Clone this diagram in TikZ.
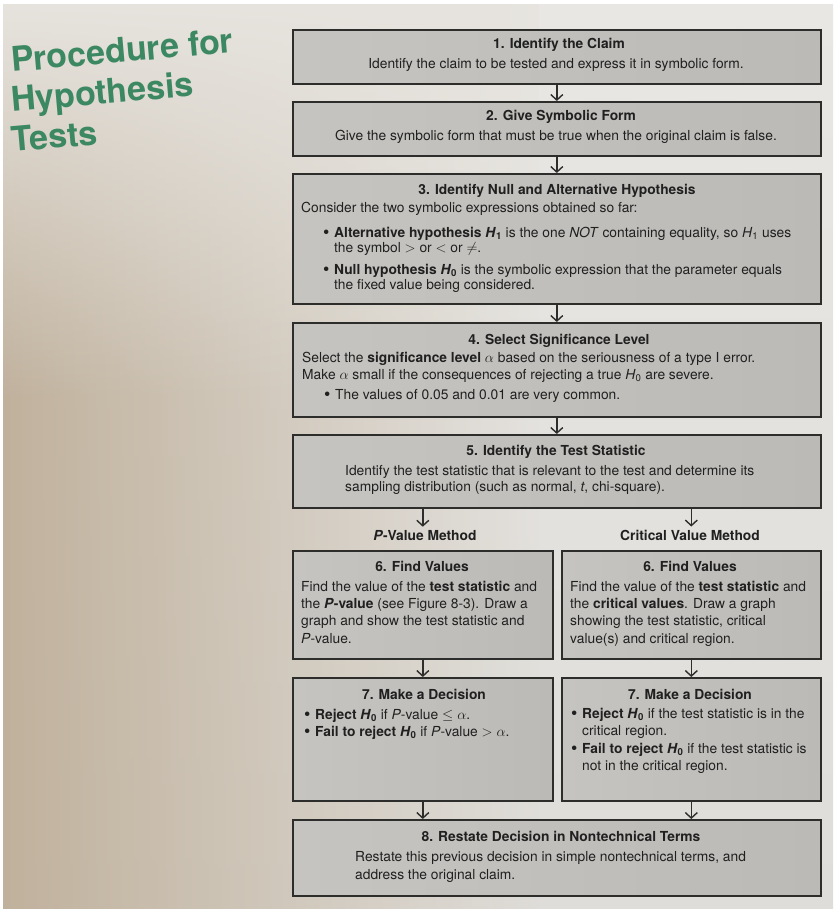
\documentclass[tikz,border=0pt]{standalone}
\usepackage{fontspec}
\setmainfont{TeX Gyre Heros}
\usetikzlibrary{arrows.meta,fadings}

\definecolor{pagetop}{RGB}{232,231,228}
\definecolor{pagebot}{RGB}{223,221,217}
\definecolor{pagetan}{RGB}{192,177,156}
\definecolor{pagelight}{RGB}{231,228,223}
\definecolor{boxlight}{RGB}{198,196,192}
\definecolor{boxdark}{RGB}{187,186,183}
\definecolor{edge}{RGB}{45,45,43}
\definecolor{ink}{RGB}{32,32,32}
\definecolor{titlegreen}{RGB}{60,136,99}

\newcommand{\Hsub}[1]{\textit{H}\textsubscript{#1}}
\newcommand{\Pv}{\textit{P}}
\newcommand{\blt}{\makebox[11pt][l]{\raisebox{-1.2pt}[0pt][0pt]{\fontsize{18}{17}\selectfont\textbullet}}}

\tikzset{
  stepbox/.style={draw=edge, line width=1.6pt, left color=boxlight, right color=boxdark,
    inner sep=0pt, anchor=north west},
  hd/.style={text=ink, font=\fontsize{13.8}{17}\selectfont\bfseries, inner sep=0pt, anchor=base},
  bd/.style={text=ink, font=\fontsize{13.8}{17}\selectfont, inner sep=0pt, anchor=base west},
  ttl/.style={text=titlegreen, font=\fontsize{34}{40}\selectfont\bfseries, inner sep=0pt,
    anchor=base west, rotate=5},
  arr/.style={draw=edge, line width=1.4pt, -{Straight Barb[length=5.5pt,width=12pt]}}
}

\begin{document}
\begin{tikzpicture}[x=1pt,y=-1pt]
\useasboundingbox (0,0) rectangle (833,909);

% paper: light grey on the right, warming to tan towards the lower left
\fill[white] (0,0) rectangle (833,909);
\begin{scope}
  \clip (3,5) rectangle (833,909);
  \shade[top color=pagetop, bottom color=pagebot] (0,0) rectangle (833,909);
  \fill[pagetan, path fading=east] (0,0) rectangle (540,909);
  \fill[pagelight, path fading=south] (0,0) rectangle (540,400);
\end{scope}

% heading
\node[ttl] (h1) at (12,72) {Procedure for};
\node[ttl] (h2) at (12,112) {Hypothesis};
\node[ttl] (h3) at (12,152) {Tests};

% boxes
\node[stepbox, minimum width=528, minimum height=54] (b1) at (292,29) {};
\node[stepbox, minimum width=528, minimum height=54] (b2) at (292,101) {};
\node[stepbox, minimum width=528, minimum height=130] (b3) at (292,173) {};
\node[stepbox, minimum width=528, minimum height=94] (b4) at (292,322) {};
\node[stepbox, minimum width=528, minimum height=73] (b5) at (292,434) {};
\node[stepbox, minimum width=260, minimum height=108] (b6l) at (292,550) {};
\node[stepbox, minimum width=259, minimum height=108] (b6r) at (561,550) {};
\node[stepbox, minimum width=260, minimum height=123] (b7l) at (292,677) {};
\node[stepbox, minimum width=259, minimum height=123] (b7r) at (561,677) {};
\node[stepbox, minimum width=528, minimum height=76] (b8) at (292,819) {};

% step 1
\node[hd] (t1) at (559,49) {1. Identify the Claim};
\node[bd, anchor=base] (t1a) at (556,69) {Identify the claim to be tested and express it in symbolic form.};

% step 2
\node[hd] (t2) at (561,121) {2. Give Symbolic Form};
\node[bd, anchor=base] (t2a) at (556,141) {Give the symbolic form that must be true when the original claim is false.};

% step 3
\node[hd] (t3) at (557,195) {3. Identify Null and Alternative Hypothesis};
\node[bd] (t3a) at (301,213) {Consider the two symbolic expressions obtained so far:};
\node[bd] (t3b) at (323,237) {\blt\textbf{Alternative hypothesis \Hsub{1}} is the one \textit{NOT} containing equality, so \Hsub{1} uses};
\node[bd] (t3c) at (334,252) {the symbol $>$ or $<$ or $\neq$.};
\node[bd] (t3d) at (323,274) {\blt\textbf{Null hypothesis \Hsub{0}} is the symbolic expression that the parameter equals};
\node[bd] (t3e) at (334,289) {the fixed value being considered.};

% step 4
\node[hd] (t4) at (559,344) {4. Select Significance Level};
\node[bd] (t4a) at (302,362) {Select the \textbf{significance level} $\alpha$ based on the seriousness of a type I error.};
\node[bd] (t4b) at (302,379) {Make $\alpha$ small if the consequences of rejecting a true \Hsub{0} are severe.};
\node[bd] (t4c) at (324,399) {\blt The values of 0.05 and 0.01 are very common.};

% step 5
\node[hd] (t5) at (556,455) {5. Identify the Test Statistic};
\node[bd] (t5a) at (345,475) {Identify the test statistic that is relevant to the test and determine its};
\node[bd] (t5b) at (345,491) {sampling distribution (such as normal, \textit{t}, chi-square).};

% method labels
\node[hd] (ml) at (425,540) {\textit{P}-Value Method};
\node[hd] (mr) at (690,540) {Critical Value Method};

% step 6, P-value method
\node[hd] (t6l) at (422,571) {6. Find Values};
\node[bd] (t6la) at (301,591) {Find the value of the \textbf{test statistic} and};
\node[bd] (t6lb) at (301,608) {the \textbf{\textit{P}-value} (see Figure 8-3). Draw a};
\node[bd] (t6lc) at (301,625) {graph and show the test statistic and};
\node[bd] (t6ld) at (301,643) {\Pv-value.};

% step 6, critical value method
\node[hd] (t6r) at (690,571) {6. Find Values};
\node[bd] (t6ra) at (570,591) {Find the value of the \textbf{test statistic} and};
\node[bd] (t6rb) at (570,608) {the \textbf{critical values}. Draw a graph};
\node[bd] (t6rc) at (570,625) {showing the test statistic, critical};
\node[bd] (t6rd) at (570,643) {value(s) and critical region.};

% step 7, P-value method
\node[hd] (t7l) at (424,699) {7. Make a Decision};
\node[bd] (t7la) at (304,719) {\blt\textbf{Reject \Hsub{0}} if \Pv-value $\le\alpha$.};
\node[bd] (t7lb) at (304,736) {\blt\textbf{Fail to reject \Hsub{0}} if \Pv-value $>\alpha$.};

% step 7, critical value method
\node[hd] (t7r) at (690,699) {7. Make a Decision};
\node[bd] (t7ra) at (571,718) {\blt\textbf{Reject \Hsub{0}} if the test statistic is in the};
\node[bd] (t7rb) at (582,735) {critical region.};
\node[bd] (t7rc) at (571,753) {\blt\textbf{Fail to reject \Hsub{0}} if the test statistic is};
\node[bd] (t7rd) at (582,770) {not in the critical region.};

% step 8
\node[hd] (t8) at (561,841) {8. Restate Decision in Nontechnical Terms};
\node[bd] (t8a) at (355,861) {Restate this previous decision in simple nontechnical terms, and};
\node[bd] (t8b) at (355,879) {address the original claim.};

% connectors
\draw[arr] (b1.south) -- (b2.north);
\draw[arr] (b2.south) -- (b3.north);
\draw[arr] (b3.south) -- (b4.north);
\draw[arr] (b4.south) -- (b5.north);
\draw[arr] (b5.south -| b6l.north) -- ([yshift=3pt]ml.north -| b6l.north);
\draw[arr] (b5.south -| b6r.north) -- ([yshift=3pt]mr.north -| b6r.north);
\draw[arr] (b6l.south) -- (b7l.north);
\draw[arr] (b6r.south) -- (b7r.north);
\draw[arr] (b7l.south) -- (b8.north -| b7l.south);
\draw[arr] (b7r.south) -- (b8.north -| b7r.south);
\end{tikzpicture}
\end{document}
